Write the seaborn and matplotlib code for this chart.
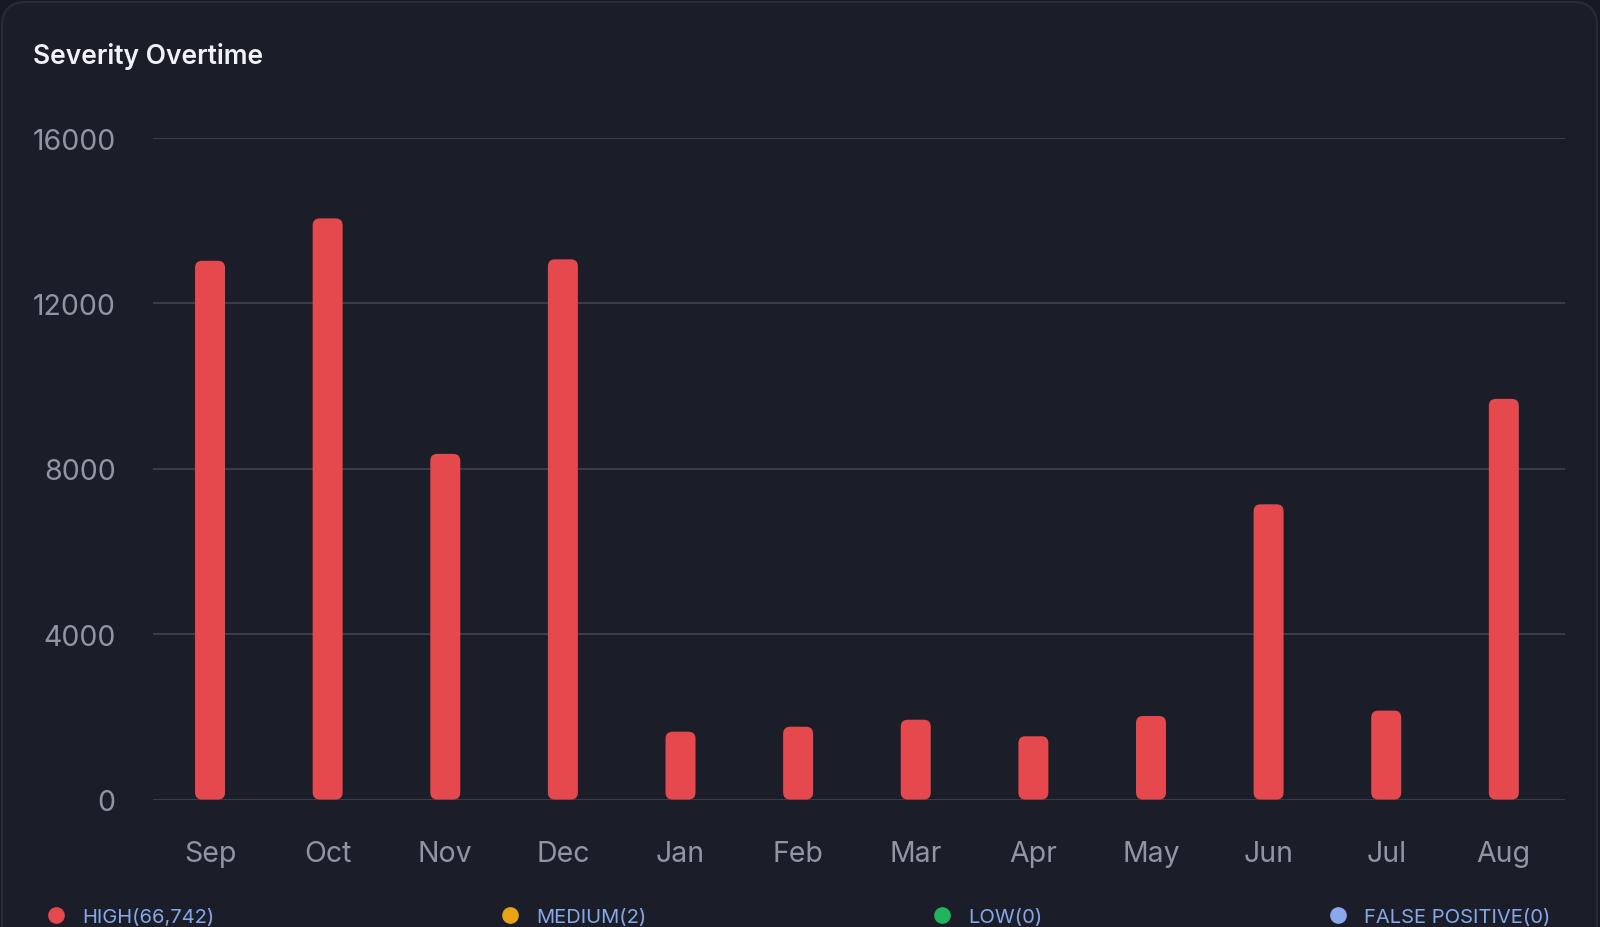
import pandas as pd
import matplotlib.pyplot as plt
import seaborn as sns
from matplotlib.patches import FancyBboxPatch
from matplotlib.lines import Line2D

# data
months = ['Sep', 'Oct', 'Nov', 'Dec', 'Jan', 'Feb', 'Mar', 'Apr', 'May', 'Jun', 'Jul', 'Aug']
high = [13030, 14055, 8360, 13065, 1640, 1760, 1930, 1530, 2020, 7140, 2150, 9690]
legend_labels = ['HIGH(66,742)', 'MEDIUM(2)', 'LOW(0)', 'FALSE POSITIVE(0)']
legend_colors = ['#e5484d', '#e8a317', '#22b35e', '#8aa8ee']
y_ticks = [0, 4000, 8000, 12000, 16000]

card = '#1b1e29'
outer = '#151a24'

sns.set_theme(style='dark', rc={
    'axes.facecolor': card,
    'figure.facecolor': outer,
    'axes.edgecolor': card,
    'grid.color': '#3a3f4b',
})
plt.rcParams['font.family'] = ['Inter', 'DejaVu Sans']

df = pd.DataFrame({'month': months, 'high': high})

fig = plt.figure(figsize=(16, 9.28), dpi=100)

# card background with rounded corners (pixel coords)
fig.patches.append(FancyBboxPatch((2, -40), 1595, 965, boxstyle='round,pad=0,rounding_size=24',
                                  transform=None, facecolor=card, edgecolor='#262c38',
                                  linewidth=1.5, zorder=-10))

ax = fig.add_axes([153 / 1600, 127.5 / 928, 1412 / 1600, 661.5 / 928])
ax.set_facecolor(card)
ax.set_zorder(1)

sns.barplot(data=df, x='month', y='high', color='#e5484d', width=0.255,
            saturation=1, ax=ax, zorder=3)

ax.set_xlim(-0.485, 11.52)
ax.set_ylim(0, 16000)
ax.set_yticks(y_ticks)
ax.set_yticklabels([str(t) for t in y_ticks])
ax.yaxis.grid(True, color='#3c414d', linewidth=1.3, zorder=0)
ax.xaxis.grid(False)
ax.set_axisbelow(True)
for s in ax.spines.values():
    s.set_visible(False)
ax.set_xlabel('')
ax.set_ylabel('')
ax.tick_params(axis='both', length=0, colors='#8f96a1', labelsize=20.5)
ax.tick_params(axis='y', pad=27)
ax.tick_params(axis='x', pad=29.5)

# swap bars for rounded ones
fig.canvas.draw()
bbox = ax.get_window_extent()
px_x = bbox.width / (ax.get_xlim()[1] - ax.get_xlim()[0])
px_y = bbox.height / (ax.get_ylim()[1] - ax.get_ylim()[0])
aspect = px_x / px_y
radius = 7 / px_x
for p in list(ax.patches):
    x, y = p.get_x(), p.get_y()
    w, h = p.get_width(), p.get_height()
    p.remove()
    ax.add_patch(FancyBboxPatch((x, y), w, h,
                                boxstyle=f'round,pad=0,rounding_size={radius}',
                                mutation_aspect=aspect, facecolor='#e5484d',
                                edgecolor='none', zorder=3))

fig.text(33 / 1600, 1 - 57 / 928, 'Severity Overtime', color='#f0f2f5',
         fontsize=19, fontweight='semibold', va='center', ha='left')

handles = [Line2D([0], [0], marker='o', linestyle='', markersize=11,
                  markerfacecolor=c, markeredgecolor=c) for c in legend_colors]
leg = fig.legend(handles, legend_labels, loc='center', ncol=4, mode='expand',
                 bbox_to_anchor=(48 / 1600, 0.0, 1502 / 1600, 2 * 10 / 928),
                 frameon=False, fontsize=14.5, handletextpad=0.9,
                 handlelength=0.8, borderaxespad=0, borderpad=0)
for t in leg.get_texts():
    t.set_color('#86a8e8')

fig.savefig('out.png', dpi=100, facecolor=outer)
